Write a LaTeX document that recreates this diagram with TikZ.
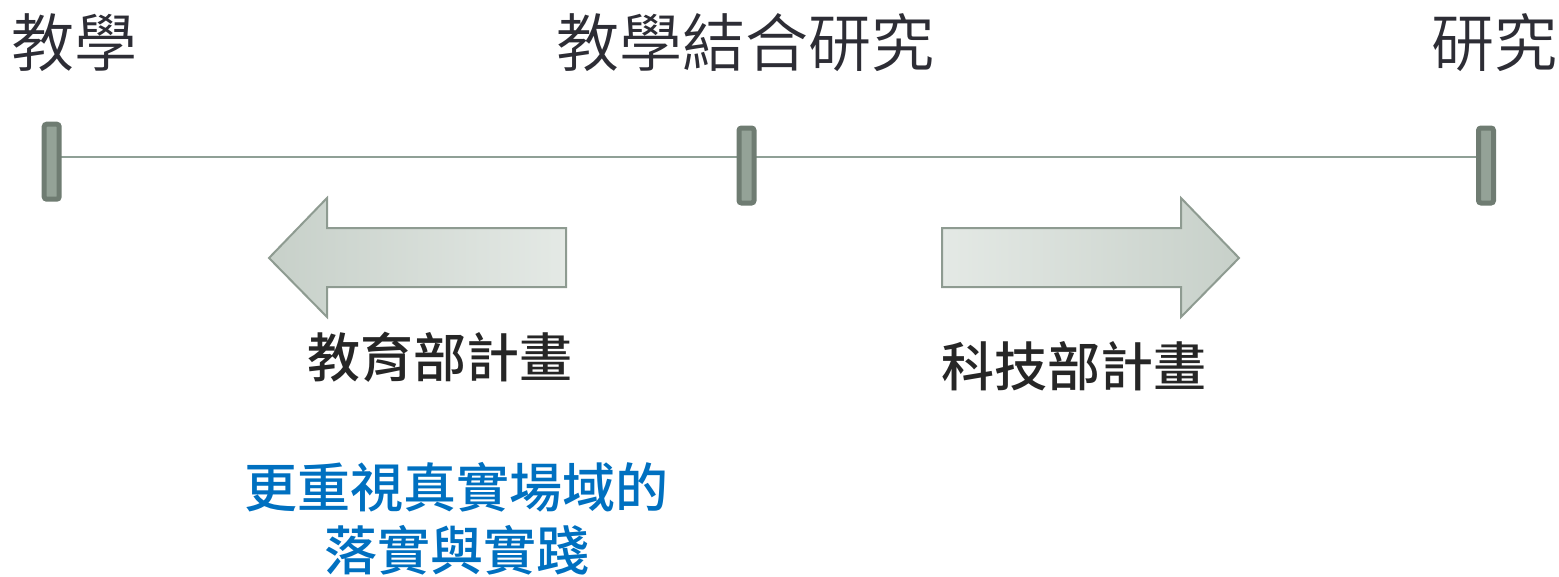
\documentclass[tikz,border=0pt]{standalone}
\usepackage{fontspec}
\newfontfamily\cjk{Noto Sans CJK TC}
\newfontfamily\cjkmed{Noto Sans CJK TC Medium}
\newfontfamily\cjklight{Noto Sans CJK TC DemiLight}
\usetikzlibrary{backgrounds}
\definecolor{titlegray}{HTML}{2D2D35}
\definecolor{boldgray}{HTML}{262626}
\definecolor{blueTxt}{HTML}{0070C0}
\definecolor{tickfill}{HTML}{94A297}
\definecolor{tickdraw}{HTML}{6F7C72}
\definecolor{axiscol}{HTML}{8FA096}
\definecolor{arrowdraw}{HTML}{8E9B91}
\definecolor{arrowdark}{HTML}{C7D0C9}
\definecolor{arrowlight}{HTML}{E4E9E5}
\tikzset{
  tickbox/.style={draw=tickdraw, fill=tickfill, line width=5pt, rounded corners=2.5pt,
    minimum width=15pt, minimum height=75pt, inner sep=0pt},
  axisline/.style={draw=axiscol, line width=2pt},
  bigarrow/.style={draw=arrowdraw, line width=2pt, line join=miter},
  titletxt/.style={font=\cjklight\fontsize{63}{63}\selectfont, text=titlegray, inner sep=0pt},
  plantxt/.style={font=\cjkmed\fontsize{53}{53}\selectfont, text=boldgray, inner sep=0pt},
  bluetxt/.style={font=\cjkmed\fontsize{53}{63}\selectfont, text=blueTxt, inner sep=0pt, align=center}
}
\begin{document}
\begin{tikzpicture}[x=1pt,y=-1pt]
\useasboundingbox (0,0) rectangle (1559,576);
% ticks
\node[tickbox] (t1) at (51.7,161.7) {};
\node[tickbox] (t2) at (746.5,165.5) {};
\node[tickbox] (t3) at (1486,165.5) {};
\coordinate (ly) at (0,157);
\begin{scope}[on background layer]
\draw[axisline] (t1.center |- ly) -- (t3.center |- ly);
\end{scope}
% titles
\node[titletxt] (teach) at (74.5,43) {教學};
\node[titletxt] (both) at (745,43) {教學結合研究};
\node[titletxt] (research) at (1494,43) {研究};
% arrows
\path[bigarrow, left color=arrowdark, right color=arrowlight]
  (269,258) -- (327,198) -- (327,228) -- (566,228) -- (566,287) -- (327,287) -- (327,317) -- cycle;
\path[bigarrow, left color=arrowlight, right color=arrowdark]
  (942,228) -- (1181,228) -- (1181,198) -- (1239,258) -- (1181,317) -- (1181,287) -- (942,287) -- cycle;
% labels
\node[plantxt] (moe) at (440,357) {教育部計畫};
\node[plantxt] (most) at (1074,366) {科技部計畫};
\node[bluetxt] (note) at (456.5,518.5) {更重視真實場域的\\落實與實踐};
\end{tikzpicture}
\end{document}
